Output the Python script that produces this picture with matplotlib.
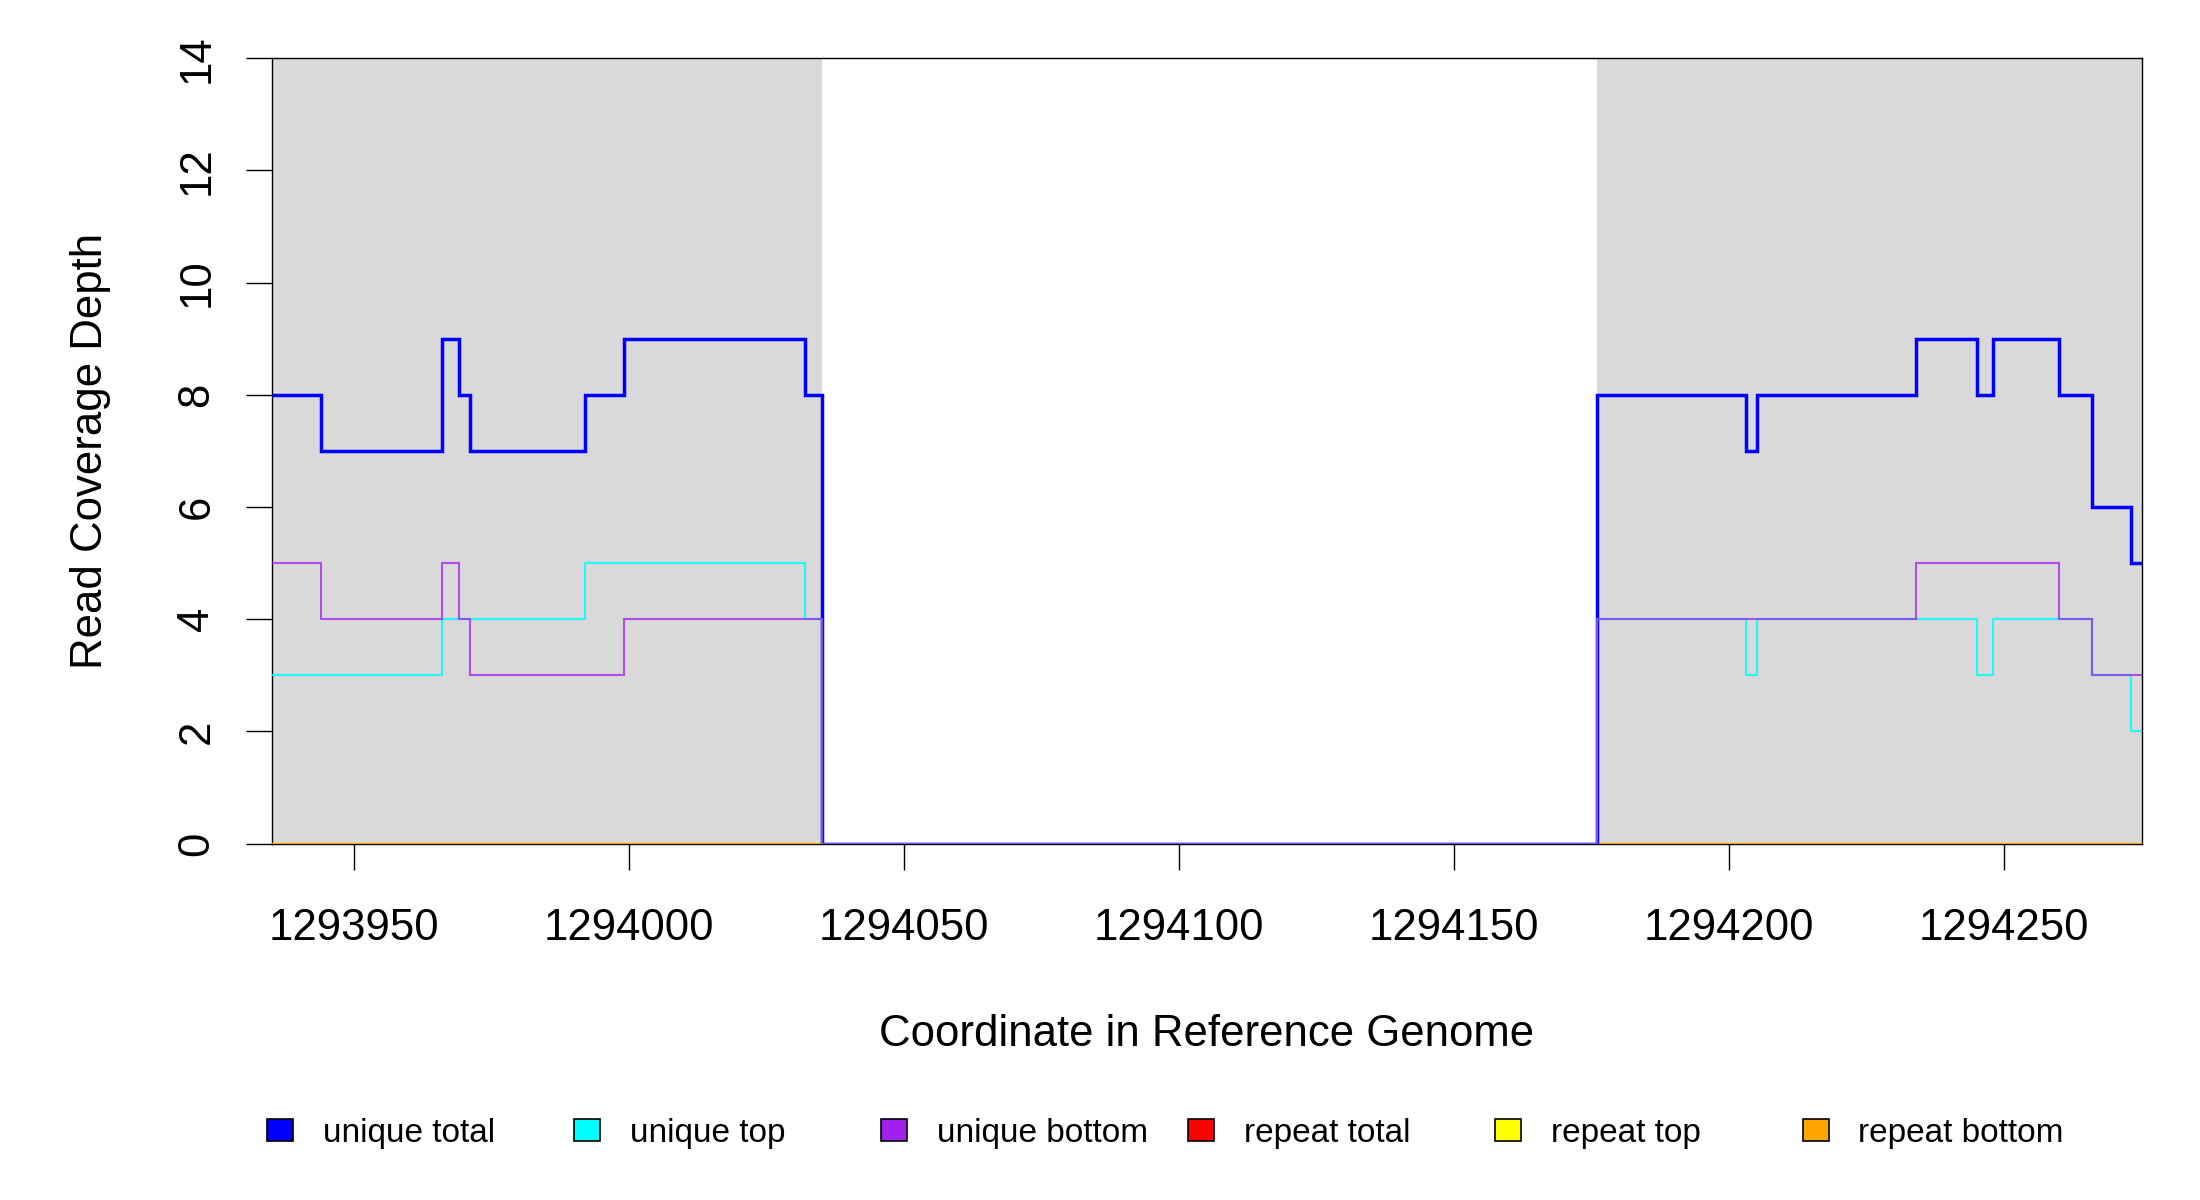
import matplotlib
matplotlib.use("Agg")
import matplotlib.pyplot as plt
from matplotlib.patches import Patch

plt.rcParams['font.family'] = ['Liberation Sans', 'DejaVu Sans']

# ---------------- data ----------------
x_limits = [1293935, 1294275]
y_limits = [0, 14]
x_ticks = [1293950, 1294000, 1294050, 1294100, 1294150, 1294200, 1294250]
y_ticks = [0, 2, 4, 6, 8, 10, 12, 14]

shaded_starts = [1293935, 1294176]
shaded_ends = [1294035, 1294275]

unique_total_edges = [1293935, 1293944, 1293966, 1293969, 1293971, 1293992, 1293999,
                      1294032, 1294035, 1294176, 1294203, 1294205, 1294234, 1294245,
                      1294248, 1294260, 1294266, 1294273, 1294275]
unique_total_vals = [8, 7, 9, 8, 7, 8, 9, 8, 0, 8, 7, 8, 9, 8, 9, 8, 6, 5]

unique_top_edges = [1293935, 1293966, 1293992, 1294032, 1294035, 1294176, 1294203,
                    1294205, 1294245, 1294248, 1294266, 1294273, 1294275]
unique_top_vals = [3, 4, 5, 4, 0, 4, 3, 4, 3, 4, 3, 2]

unique_bottom_edges = [1293935, 1293944, 1293966, 1293969, 1293971, 1293999, 1294035,
                       1294176, 1294234, 1294260, 1294266, 1294275]
unique_bottom_vals = [5, 4, 5, 4, 3, 4, 0, 4, 5, 4, 3]

repeat_edges = [1293935, 1294275]
repeat_total_vals = [0]
repeat_top_vals = [0]
repeat_bottom_vals = [0]

legend_labels = ['unique total', 'unique top', 'unique bottom',
                 'repeat total', 'repeat top', 'repeat bottom']
legend_colors = ['#0000FF', '#00FFFF', '#A020F0', '#FF0000', '#FFFF00', '#FFA500']

# ---------------- figure ----------------
W, H = 2200, 1200
fig = plt.figure(figsize=(22, 12), dpi=100)
ax_left, ax_right, ax_top, ax_bottom = 271.7, 2141.7, 58.3, 843.5
ax = fig.add_axes([ax_left / W, 1 - ax_bottom / H,
                   (ax_right - ax_left) / W, (ax_bottom - ax_top) / H])

for s, e in zip(shaded_starts, shaded_ends):
    ax.axvspan(s, e, color='#D9D9D9', lw=0, zorder=0.5)

# repeat series (drawn first), lines above the frame like R's lines()
ax.stairs(repeat_total_vals, repeat_edges, color=legend_colors[3], lw=1.5,
          baseline=None, zorder=3)
ax.stairs(repeat_top_vals, repeat_edges, color=legend_colors[4], lw=1.5,
          baseline=None, zorder=3)
ax.stairs(repeat_bottom_vals, repeat_edges, color=legend_colors[5], lw=1.5,
          baseline=None, zorder=3)

# unique series
ax.stairs(unique_total_vals, unique_total_edges, color=legend_colors[0], lw=2.5,
          baseline=None, zorder=3)
ax.stairs(unique_top_vals, unique_top_edges, color=legend_colors[1], lw=1.5,
          alpha=0.85, baseline=None, zorder=3)
ax.stairs(unique_bottom_vals, unique_bottom_edges, color=legend_colors[2], lw=1.5,
          alpha=0.75, baseline=None, zorder=3)

ax.set_xlim(*x_limits)
ax.set_ylim(*y_limits)
ax.set_xticks(x_ticks)
ax.set_yticks(y_ticks)
ax.set_xticklabels([str(v) for v in x_ticks])
ax.set_yticklabels([str(v) for v in y_ticks])

for sp in ax.spines.values():
    sp.set_linewidth(1.0)
    sp.set_color('black')

ax.tick_params(axis='both', direction='out', length=19, width=1.0,
               labelsize=31.5, colors='black')
ax.tick_params(axis='x', pad=27.2)
ax.tick_params(axis='y', pad=26.6)
for lbl in ax.get_yticklabels():
    lbl.set_rotation(90)
    lbl.set_rotation_mode('anchor')
    lbl.set_ha('center')
    lbl.set_va('baseline')

ax.set_ylabel('Read Coverage Depth', fontsize=31.5, va='baseline')
ax.yaxis.set_label_coords((101.7 - ax_left) / (ax_right - ax_left), 0.5)
ax.set_xlabel('Coordinate in Reference Genome', fontsize=31.5, va='baseline')
ax.xaxis.set_label_coords(0.5, (ax_bottom - 1046) / (ax_bottom - ax_top))

# legend: one entry per slot, evenly spaced as in the reference
leg_y = 1 - 1133.5 / H
for i, (lab, col) in enumerate(zip(legend_labels, legend_colors)):
    x0 = (267 + i * 307.1) / W
    fig.legend(handles=[Patch(facecolor=col, edgecolor='black', lw=1.2)],
               labels=[lab], loc='center left', bbox_to_anchor=(x0, leg_y),
               frameon=False, fontsize=24, handlelength=0.78, handleheight=0.63,
               handletextpad=0.9, borderpad=0, borderaxespad=0)

fig.savefig('out.png', dpi=100, facecolor='white')
